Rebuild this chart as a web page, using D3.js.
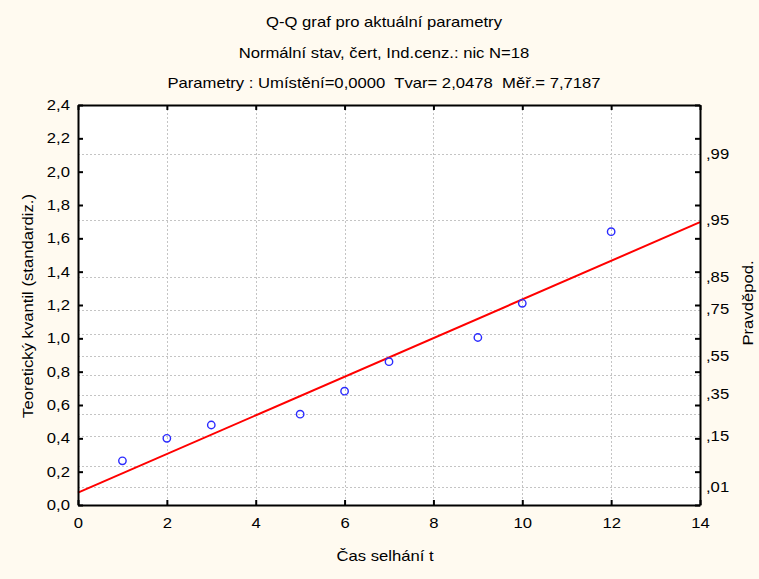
<!DOCTYPE html>
<html>
<head>
<meta charset="utf-8">
<script src="https://cdn.jsdelivr.net/npm/d3@7"></script>
<style>
  html, body { margin: 0; padding: 0; background: #FFFAF0; }
  svg { display: block; font-family: Arial, "Liberation Sans", sans-serif; }
  text { white-space: pre; }
</style>
</head>
<body>
<svg id="chart" width="759" height="579"></svg>
<script>
// Title lines
const titleLines = [
  "Q-Q graf pro aktuální parametry",
  "Normální stav, čert, Ind.cenz.: nic N=18",
  "Parametry : Umístění=0,0000  Tvar= 2,0478  Měř.= 7,7187"
];

// Observed failure times and their theoretical (standardised) quantiles
const failTimes = [1, 2, 3, 5, 6, 7, 9, 10, 12];
const quantiles = [0.265, 0.400, 0.480, 0.545, 0.683, 0.860, 1.005, 1.210, 1.640];

// Fitted reference line (two end points)
const fitX = [0, 14];
const fitY = [0.074, 1.697];

// Axis ticks
const xTicks = [0, 2, 4, 6, 8, 10, 12, 14];
const yTicks = [0, 0.2, 0.4, 0.6, 0.8, 1.0, 1.2, 1.4, 1.6, 1.8, 2.0, 2.2, 2.4];

// Probability scale on the right axis (Weibull shape parameter)
const weibullShape = 2.0478;
const probGrid = [0.01, 0.05, 0.15, 0.25, 0.35, 0.45, 0.55, 0.65, 0.75, 0.85, 0.95, 0.99];
const probLabels = [0.01, 0.15, 0.35, 0.55, 0.75, 0.85, 0.95, 0.99];

const svg = d3.select("#chart");
const margin = { left: 78, top: 105, right: 59, bottom: 74 };
const W = 759, H = 579;
const x0 = margin.left, x1 = W - margin.right;
const y0 = H - margin.bottom, y1 = margin.top;

// Text is drawn slightly widened, like the original renderer's font
const FONT = 14, SX = 1.19;

const x = d3.scaleLinear().domain([0, 14]).range([x0, x1]);
const y = d3.scaleLinear().domain([0, 2.4]).range([y0, y1]);
const probToQ = p => Math.pow(-Math.log(1 - p), 1 / weibullShape);
const fmtComma = d => d3.format(".1f")(d).replace(".", ",");
const fmtProb = p => "," + d3.format("02d")(Math.round(p * 100));

function label(parent, tx, ty, str, anchor, rot) {
  return parent.append("text")
    .attr("transform", `translate(${tx},${ty})` + (rot ? ` rotate(${rot})` : "") + ` scale(${SX},1)`)
    .attr("text-anchor", anchor || "start")
    .attr("font-size", FONT)
    .attr("fill", "#000")
    .text(str);
}

// Plot background
svg.append("rect")
  .attr("x", x0).attr("y", y1)
  .attr("width", x1 - x0).attr("height", y0 - y1)
  .attr("fill", "#ffffff");

// Grid: vertical at x ticks, horizontal at probability levels
const grid = svg.append("g")
  .attr("stroke", "#c4c4c4")
  .attr("stroke-width", 1)
  .attr("stroke-dasharray", "2,2");
grid.selectAll("line.v")
  .data(xTicks.filter(d => d > 0 && d < 14))
  .join("line")
  .attr("class", "v")
  .attr("x1", d => Math.round(x(d)) + 0.5).attr("x2", d => Math.round(x(d)) + 0.5)
  .attr("y1", y1).attr("y2", y0);
grid.selectAll("line.h")
  .data(probGrid)
  .join("line")
  .attr("class", "h")
  .attr("x1", x0).attr("x2", x1)
  .attr("y1", d => Math.round(y(probToQ(d))) + 0.5)
  .attr("y2", d => Math.round(y(probToQ(d))) + 0.5);

// Fitted line
svg.append("path")
  .datum(fitX.map((d, i) => [d, fitY[i]]))
  .attr("fill", "none")
  .attr("stroke", "#ff0000")
  .attr("stroke-width", 2)
  .attr("d", d3.line().x(d => x(d[0])).y(d => y(d[1])));

// Data points
svg.append("g")
  .selectAll("circle")
  .data(failTimes.map((d, i) => [d, quantiles[i]]))
  .join("circle")
  .attr("cx", d => x(d[0]))
  .attr("cy", d => y(d[1]))
  .attr("r", 3.7)
  .attr("fill", "none")
  .attr("stroke", "#2b2bff")
  .attr("stroke-width", 1.4);

// Axes (ticks point inwards)
const tickLen = 5;
const axisStyle = g => {
  g.select(".domain").attr("stroke", "#000").attr("stroke-width", 2);
  g.selectAll(".tick line").attr("stroke", "#000").attr("stroke-width", 2);
  g.selectAll(".tick text")
    .attr("font-size", FONT).attr("fill", "#000")
    .attr("font-family", "Arial, 'Liberation Sans', sans-serif")
    .each(function () {
      const t = d3.select(this);
      const tx = +t.attr("x") || 0, ty = +t.attr("y") || 0;
      t.attr("x", null).attr("y", null)
        .attr("transform", `translate(${tx},${ty}) scale(${SX},1)`);
    });
};

svg.append("g")
  .attr("transform", `translate(0,${y0})`)
  .call(d3.axisBottom(x).tickValues(xTicks).tickSizeInner(-tickLen).tickSizeOuter(0).tickPadding(13).tickFormat(d3.format("d")))
  .call(axisStyle);

svg.append("g")
  .attr("transform", `translate(0,${y1})`)
  .call(d3.axisTop(x).tickValues(xTicks).tickSizeInner(-tickLen).tickSizeOuter(0).tickFormat(""))
  .call(axisStyle);

svg.append("g")
  .attr("transform", `translate(${x0},0)`)
  .call(d3.axisLeft(y).tickValues(yTicks).tickSizeInner(-tickLen).tickSizeOuter(0).tickPadding(8).tickFormat(fmtComma))
  .call(axisStyle);

svg.append("g")
  .attr("transform", `translate(${x1},0)`)
  .call(d3.axisRight(y).tickValues(yTicks).tickSizeInner(-tickLen).tickSizeOuter(0).tickFormat(""))
  .call(axisStyle);

// Probability labels on the right
const probG = svg.append("g");
probLabels.forEach(p => {
  label(probG, x1 + 6, y(probToQ(p)), fmtProb(p), "start").attr("dy", "0.35em");
});

// Titles
titleLines.forEach((s, i) => label(svg, 384, 27 + i * 30.5, s, "middle"));

// Axis titles
label(svg, 385, 561, "Čas selhání t", "middle");
label(svg, 33, 306, "Teoretický kvantil (standardiz.)", "middle", -90);
label(svg, 753, 303, "Pravděpod.", "middle", -90);
</script>
</body>
</html>
